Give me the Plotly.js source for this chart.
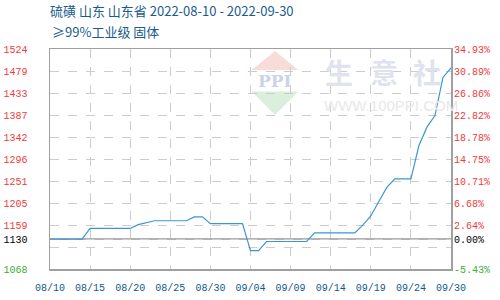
<!DOCTYPE html>
<html>
<head>
<meta charset="utf-8">
<script src="https://cdn.plot.ly/plotly-3.0.1.min.js"></script>
<style>html,body{margin:0;padding:0;background:#fff;}#chart{width:500px;height:300px;}</style>
</head>
<body>
<div id="chart"></div>
<script>
// ---- data ----
const dates = [
  "08/10","08/11","08/12","08/13","08/14","08/15","08/16","08/17","08/18","08/19",
  "08/20","08/21","08/22","08/23","08/24","08/25","08/26","08/27","08/28","08/29",
  "08/30","08/31","09/01","09/02","09/03","09/04","09/05","09/06","09/07","09/08",
  "09/09","09/10","09/11","09/12","09/13","09/14","09/15","09/16","09/17","09/18",
  "09/19","09/20","09/21","09/22","09/23","09/24","09/26","09/27","09/28","09/29","09/30"
];
const prices = [
  1130,1130,1130,1130,1130,1152,1152,1152,1152,1152,
  1152,1160,1164,1168,1168,1168,1168,1168,1176,1176,
  1162,1162,1162,1162,1162,1106,1106,1125,1125,1125,
  1125,1125,1125,1143,1143,1143,1143,1143,1143,1159,
  1178,1208,1237,1255,1255,1255,1324,1362,1386,1465,1485
];
const xTickLabels = ["08/10","08/15","08/20","08/25","08/30","09/04","09/09","09/14","09/19","09/24","09/30"];
const baseValue = 1130;
const yTickValues = [1068,1113.6,1130,1159.2,1204.8,1250.4,1296,1341.6,1387.2,1432.8,1478.4,1524];
const yTickLabels = ["1068","","1130","1159","1205","1251","1296","1342","1387","1433","1479","1524"];
const pctTickLabels = ["-5.43%","","0.00%","2.64%","6.68%","10.71%","14.75%","18.78%","22.82%","26.86%","30.89%","34.93%"];
const titleLine1 = "硫磺 山东 山东省 2022-08-10 - 2022-09-30";
const titleLine2 = "≥99%工业级 固体";
const watermarkChars = ["生","意","社"];

// ---- styling helpers ----
const RED = "#f23a3a", GREEN = "#3aae3a", BLACK = "#000000";
function colorFor(v){ return v > baseValue ? RED : (v < baseValue ? GREEN : BLACK); }
function colored(labels){
  return labels.map((t,i)=> t === "" ? "" : '<span style="color:' + colorFor(yTickValues[i]) + '">' + t + '</span>');
}
const xIdx = dates.map((d,i)=>i);
const xTickIdx = xTickLabels.map(l => dates.indexOf(l));

const trace = {
  x: xIdx, y: prices, type: "scatter", mode: "lines",
  line: {color: "#3b97d3", width: 1.2}, hoverinfo: "skip", showlegend: false
};
const trace2 = {
  x: [0], y: [baseValue], yaxis: "y2", type: "scatter", mode: "markers",
  marker: {opacity: 0}, hoverinfo: "skip", showlegend: false
};

const fontMono = "Liberation Mono, monospace";
const wmX = [0.720, 0.832, 0.940];
const annotations = [
  {text: titleLine2, xref: "paper", yref: "paper", x: 0, y: 1 + 6/220, xanchor: "left", yanchor: "bottom",
   showarrow: false, font: {family: "Noto Sans CJK SC, sans-serif", size: 13, color: "#1a5d8c"}},
  {text: "PPI", xref: "paper", yref: "paper", x: 0.5612, y: 0.8545, xanchor: "center", yanchor: "middle",
   showarrow: false, font: {family: "DejaVu Serif, serif", size: 17, color: "#c9d3ea", weight: 700}},
  {text: "WWW.100PPI.COM", xref: "paper", yref: "paper", x: 0.678, y: 0.745, xanchor: "left", yanchor: "middle",
   showarrow: false, font: {family: "Liberation Sans, Arial, sans-serif", size: 15, color: "#e8e8e8"}}
];
watermarkChars.forEach((c,i)=>annotations.push(
  {text: c, xref: "paper", yref: "paper", x: wmX[i], y: 0.895, xanchor: "center", yanchor: "middle",
   showarrow: false, font: {family: "Noto Sans CJK SC, sans-serif", size: 28, color: "#dfe3ee", weight: 700}}
));

const layout = {
  width: 500, height: 300,
  margin: {l: 50, r: 49, t: 49, b: 31},
  paper_bgcolor: "#fff", plot_bgcolor: "#fff",
  title: {
    text: titleLine1, x: 50/500, xanchor: "left", xref: "container",
    y: 1 - 7/300, yanchor: "top", yref: "container",
    font: {family: "Noto Sans CJK SC, sans-serif", size: 13, color: "#1a5d8c"}
  },
  xaxis: {
    range: [0, dates.length - 1], type: "linear",
    tickvals: xTickIdx, ticktext: xTickLabels,
    showgrid: true, gridcolor: "#cccccc", griddash: "dash", gridwidth: 1,
    showline: true, linecolor: "#a0a0a0", linewidth: 1.5, mirror: true,
    ticks: "", ticklabelstandoff: 8,
    tickfont: {family: fontMono, size: 10, color: "#0f5a8a"},
    zeroline: false, fixedrange: true
  },
  yaxis: {
    range: [1068, 1524],
    tickvals: yTickValues, ticktext: colored(yTickLabels),
    showgrid: true, gridcolor: "#cccccc", griddash: "dash", gridwidth: 1,
    showline: true, linecolor: "#a0a0a0", linewidth: 1.5, mirror: true,
    ticks: "", ticklabelstandoff: 19,
    tickfont: {family: fontMono, size: 10},
    zeroline: false, fixedrange: true
  },
  yaxis2: {
    range: [1068, 1524], overlaying: "y", side: "right",
    tickvals: yTickValues, ticktext: colored(pctTickLabels),
    showgrid: false, showline: false, ticks: "", ticklabelstandoff: 2,
    tickfont: {family: fontMono, size: 10},
    zeroline: false, fixedrange: true
  },
  shapes: [
    {type: "line", xref: "paper", x0: 0, x1: 1, yref: "y", y0: baseValue, y1: baseValue,
     line: {color: "#999999", width: 1.5}, layer: "between"},
    {type: "path", xref: "paper", yref: "paper", layer: "below",
     path: "M 0.5612 0.9909 L 0.5032 0.9045 L 0.6192 0.9045 Z",
     fillcolor: "#f8dcd8", line: {width: 0}},
    {type: "path", xref: "paper", yref: "paper", layer: "below",
     path: "M 0.5032 0.8068 L 0.6192 0.8068 L 0.5612 0.7000 Z",
     fillcolor: "#dbefdc", line: {width: 0}}
  ],
  annotations: annotations
};

Plotly.newPlot("chart", [trace, trace2], layout, {staticPlot: true, displayModeBar: false});
</script>
</body>
</html>
